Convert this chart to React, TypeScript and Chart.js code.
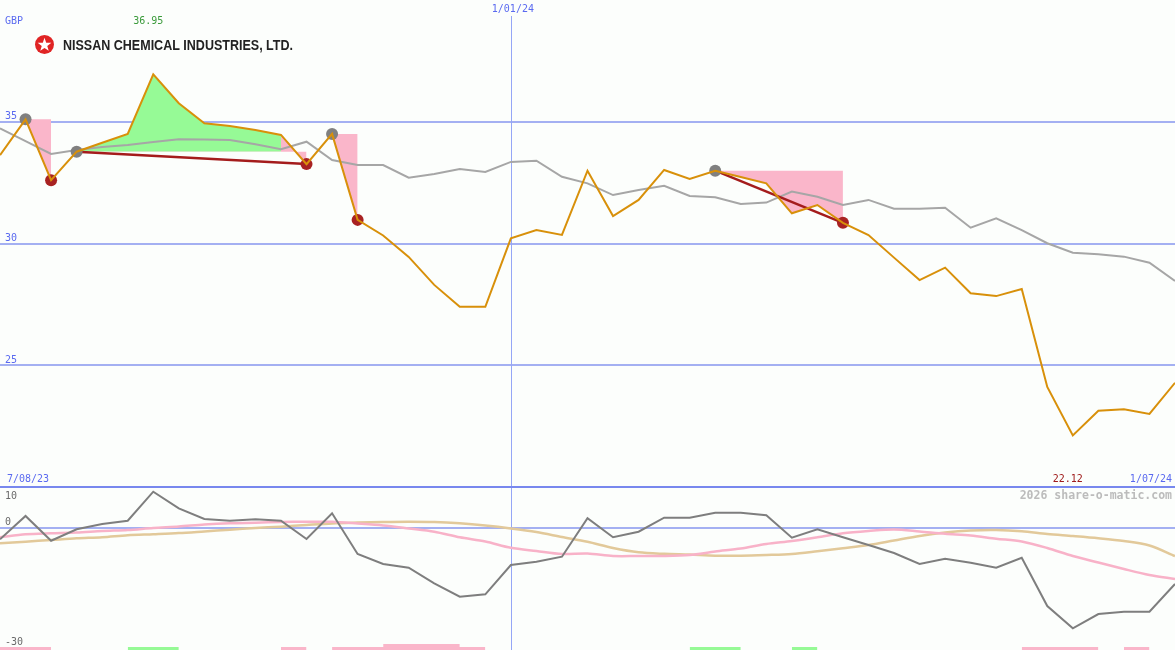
import React, { useEffect, useRef } from "react";
import { Chart, registerables } from "chart.js";
Chart.register(...registerables);

// ---------- DATA ----------
const currency = "GBP";
const companyName = "NISSAN CHEMICAL INDUSTRIES, LTD.";
const watermark = "2026 share-o-matic.com";

// weekly closing price (GBP), index 0 = 7/08/23 ... index 46 = 1/07/24
const price = [
  33.63, 35.1, 32.6, 33.77, 34.14, 34.5, 36.95, 35.76, 34.94, 34.83, 34.66, 34.46, 33.26, 34.5, 30.97, 30.33,
  29.45, 28.3, 27.4, 27.4, 30.21, 30.55, 30.35, 32.99, 31.13, 31.79, 33.02, 32.65, 32.99, 32.73, 32.47, 31.24,
  31.58, 30.85, 30.35, 29.42, 28.5, 29.01, 27.96, 27.84, 28.13, 24.11, 22.12, 23.13, 23.19, 23.0, 24.28,
];
// moving average
const movingAvg = [
  34.73, 34.2, 33.68, 33.84, 33.96, 34.05, 34.17, 34.28, 34.27, 34.25, 34.08, 33.87, 34.18, 33.43, 33.22, 33.22,
  32.7, 32.85, 33.06, 32.94, 33.35, 33.4, 32.74, 32.47, 31.99, 32.2, 32.37, 31.95, 31.9, 31.62, 31.68, 32.13,
  31.92, 31.58, 31.79, 31.43, 31.43, 31.47, 30.65, 31.03, 30.55, 30.01, 29.62, 29.56, 29.46, 29.21, 28.46,
];
// lower panel: momentum oscillator
const oscillator = [
  -2.95, 2.88, -3.3, -0.45, 0.88, 1.7, 8.95, 4.8, 2.13, 1.7, 2.05, 1.7, -2.88, 3.55, -6.63, -9.13, -10.05,
  -13.95, -17.3, -16.7, -9.38, -8.55, -7.3, 2.3, -2.45, -1.05, 2.45, 2.45, 3.7, 3.7, 3.05, -2.55, -0.45, -2.45,
  -4.38, -6.38, -9.13, -7.8, -8.8, -10.05, -7.55, -19.63, -25.2, -21.63, -21.05, -21.05, -14.13,
];
const oscSlow1 = [
  -2.45, -1.7, -1.45, -1.28, -0.88, -0.63, -0.13, 0.23, 0.73, 1.05, 1.2, 1.38, 1.45, 1.43, 1.0, 0.5, -0.25,
  -1.05, -2.45, -3.5, -5.08, -5.88, -6.63, -6.5, -7.13, -7.13, -7.13, -6.88, -6.0, -5.25, -4.13, -3.38, -2.45,
  -1.45, -0.88, -0.5, -1.0, -1.58, -2.0, -2.8, -3.5, -5.13, -7.13, -8.75, -10.38, -11.88, -12.88,
];
const oscSlow2 = [
  -3.95, -3.55, -3.13, -2.7, -2.43, -1.93, -1.68, -1.4, -0.98, -0.55, -0.13, 0.2, 0.63, 1.03, 1.23, 1.38, 1.45,
  1.38, 1.05, 0.5, -0.23, -1.13, -2.38, -3.58, -5.13, -6.2, -6.58, -6.78, -7.05, -7.05, -6.88, -6.63, -5.95,
  -5.2, -4.4, -3.25, -2.1, -1.25, -0.75, -0.63, -0.95, -1.63, -2.13, -2.68, -3.38, -4.5, -7.13,
];

// pattern marks (indices into price)
const peakMarks = [1, 3, 13, 28];
const troughMarks = [2, 12, 14, 33];
const trendLines = [
  [3, 12],
  [28, 33],
];
// [from, to, index whose price is the reference level]
const riseSpans = [[3, 11, 3]];
const fallSpans = [
  [1, 2, 1],
  [11, 12, 3],
  [13, 14, 13],
  [28, 33, 28],
];
// bottom signal strips [from, to]
const sellStrips = [
  [0, 2],
  [11, 12],
  [13, 19],
  [40, 43],
  [44, 45],
];
const sellStripsStrong = [[15, 18]];
const buyStrips = [
  [5, 7],
  [27, 29],
  [31, 32],
];

// axis ticks / labels
const priceTicks = [25, 30, 35];
const oscTicks = [10, 0, -30];
const oscZero = 0;
const panelDivider = 20;
const dateLabels = [
  { idx: 0, text: "7/08/23" },
  { idx: 46, text: "1/07/24" },
];
const yearLine = { idx: 20, text: "1/01/24" };
const lastIndex = 46;

// ---------- STYLE ----------
const BG = "#fcfefc";
const ORANGE = "#d8900a";
const MA_GRAY = "#a6a6a6";
const TREND_RED = "#a41c1c";
const PEAK_GRAY = "#808080";
const TROUGH_RED = "#a82222";
const PINK = "rgb(250,182,202)";
const GREEN = "rgb(150,250,150)";
const GRID_BLUE = "#a4b0f2";
const VLINE_BLUE = "#95a6f6";
const DIVIDER_BLUE = "#7888ee";
const LABEL_BLUE = "#5a6af0";
const OSC_GRAY = "#7e7e7e";
const OSC_PINK = "#f8b2c8";
const OSC_TAN = "#e2c99a";
const MONO = '"DejaVu Sans Mono", monospace';

const pts = (arr: number[]) => arr.map((v, i) => ({ x: i, y: v }));

const decorPlugin = {
  id: "decor",
  beforeDraw(chart: any) {
    const { ctx, width, height } = chart;
    ctx.save();
    ctx.fillStyle = BG;
    ctx.fillRect(0, 0, width, height);
    ctx.restore();
  },
  beforeDatasetsDraw(chart: any) {
    const { ctx, chartArea } = chart;
    const x = chart.scales.x;
    const y = chart.scales.y;
    const y2 = chart.scales.y2;
    ctx.save();
    // horizontal price grid
    ctx.strokeStyle = GRID_BLUE;
    ctx.lineWidth = 2;
    priceTicks.forEach((t) => {
      const py = Math.round(y.getPixelForValue(t));
      ctx.beginPath();
      ctx.moveTo(chartArea.left, py);
      ctx.lineTo(chartArea.right, py);
      ctx.stroke();
    });
    // oscillator zero line
    const pz = Math.round(y2.getPixelForValue(oscZero));
    ctx.beginPath();
    ctx.moveTo(chartArea.left, pz);
    ctx.lineTo(chartArea.right, pz);
    ctx.stroke();
    // year line
    ctx.strokeStyle = VLINE_BLUE;
    ctx.lineWidth = 1;
    const vx = Math.round(x.getPixelForValue(yearLine.idx)) + 0.5;
    ctx.beginPath();
    ctx.moveTo(vx, 16);
    ctx.lineTo(vx, chartArea.bottom);
    ctx.stroke();
    // panel divider
    ctx.strokeStyle = DIVIDER_BLUE;
    ctx.lineWidth = 2;
    const pd = Math.round(y.getPixelForValue(panelDivider));
    ctx.beginPath();
    ctx.moveTo(chartArea.left, pd);
    ctx.lineTo(chartArea.right, pd);
    ctx.stroke();
    ctx.restore();
  },
  afterDatasetsDraw(chart: any) {
    const { ctx, chartArea } = chart;
    const x = chart.scales.x;
    const y = chart.scales.y;
    const y2 = chart.scales.y2;
    ctx.save();
    ctx.textBaseline = "middle";
    ctx.font = `10px ${MONO}`;
    // price tick labels
    ctx.fillStyle = LABEL_BLUE;
    ctx.textAlign = "left";
    priceTicks.forEach((t) => ctx.fillText(String(t), 5, y.getPixelForValue(t) - 5));
    ctx.fillText(currency, 5, 21);
    // osc tick labels
    ctx.fillStyle = "#6a6a6a";
    oscTicks.forEach((t) => {
      const py = Math.max(y2.getPixelForValue(t) - 5.5, 496);
      ctx.fillText(String(t), 5, py);
    });
    // date labels
    const pd = y.getPixelForValue(panelDivider);
    ctx.fillStyle = LABEL_BLUE;
    dateLabels.forEach((d) => {
      ctx.textAlign = d.idx === 0 ? "left" : "right";
      const px = x.getPixelForValue(d.idx);
      ctx.fillText(d.text, d.idx === 0 ? px + 7 : px - 3, pd - 8);
    });
    ctx.textAlign = "center";
    ctx.fillText(yearLine.text, x.getPixelForValue(yearLine.idx) + 2, 9);
    // max / min
    let maxI = 0;
    let minI = 0;
    price.forEach((v, i) => {
      if (v > price[maxI]) maxI = i;
      if (v < price[minI]) minI = i;
    });
    ctx.fillStyle = "#3a9a3a";
    ctx.fillText(price[maxI].toFixed(2), x.getPixelForValue(maxI) - 5, 21);
    ctx.fillStyle = "#a01c1c";
    ctx.fillText(price[minI].toFixed(2), x.getPixelForValue(minI) - 5, pd - 8);
    // watermark
    ctx.textAlign = "right";
    ctx.fillStyle = "#bcbcbc";
    ctx.font = `bold 11.5px ${MONO}`;
    ctx.fillText(watermark, chartArea.right - 3, pd + 9);
    // logo
    ctx.fillStyle = "#e02424";
    ctx.beginPath();
    ctx.arc(44.5, 44.5, 9.5, 0, Math.PI * 2);
    ctx.fill();
    ctx.fillStyle = "#ffffff";
    ctx.beginPath();
    for (let k = 0; k < 10; k++) {
      const r = k % 2 === 0 ? 7.2 : 2.9;
      const a = -Math.PI / 2 + (k * Math.PI) / 5;
      const sx = 44.5 + r * Math.cos(a);
      const sy = 45 + r * Math.sin(a);
      if (k === 0) ctx.moveTo(sx, sy);
      else ctx.lineTo(sx, sy);
    }
    ctx.closePath();
    ctx.fill();
    ctx.fillStyle = "#222222";
    ctx.textAlign = "left";
    ctx.textBaseline = "alphabetic";
    ctx.font = 'bold 14px "Liberation Sans", Arial, sans-serif';
    ctx.fillText(companyName, 63, 49.5, 230);
    ctx.restore();
  },
};

export default function App() {
  const ref = useRef<HTMLCanvasElement | null>(null);
  useEffect(() => {
    document.body.style.margin = "0";
    const canvas = ref.current;
    if (!canvas) return;

    const datasets: any[] = [];
    // main price line (top-most)
    datasets.push({
      data: pts(price),
      yAxisID: "y",
      borderColor: ORANGE,
      borderWidth: 2,
      pointRadius: 0,
      tension: 0,
      fill: false,
    });
    // markers
    datasets.push({
      data: troughMarks.map((i) => ({ x: i, y: price[i] })),
      yAxisID: "y",
      showLine: false,
      pointRadius: 6,
      pointBackgroundColor: TROUGH_RED,
      pointBorderWidth: 0,
      borderColor: TROUGH_RED,
      fill: false,
    });
    datasets.push({
      data: peakMarks.map((i) => ({ x: i, y: price[i] })),
      yAxisID: "y",
      showLine: false,
      pointRadius: 6,
      pointBackgroundColor: PEAK_GRAY,
      pointBorderWidth: 0,
      borderColor: PEAK_GRAY,
      fill: false,
    });
    // oscillator lines
    datasets.push({
      data: pts(oscillator),
      yAxisID: "y2",
      borderColor: OSC_GRAY,
      borderWidth: 2,
      pointRadius: 0,
      tension: 0,
      fill: false,
    });
    datasets.push({
      data: pts(oscSlow1),
      yAxisID: "y2",
      borderColor: OSC_PINK,
      borderWidth: 2.5,
      pointRadius: 0,
      tension: 0.3,
      fill: false,
    });
    datasets.push({
      data: pts(oscSlow2),
      yAxisID: "y2",
      borderColor: OSC_TAN,
      borderWidth: 2.5,
      pointRadius: 0,
      tension: 0.3,
      fill: false,
    });
    // trend lines
    trendLines.forEach(([a, b]) => {
      datasets.push({
        data: [
          { x: a, y: price[a] },
          { x: b, y: price[b] },
        ],
        yAxisID: "y",
        borderColor: TREND_RED,
        borderWidth: 2.5,
        pointRadius: 0,
        fill: false,
      });
    });
    // moving average
    datasets.push({
      data: pts(movingAvg),
      yAxisID: "y",
      borderColor: MA_GRAY,
      borderWidth: 2,
      pointRadius: 0,
      tension: 0,
      fill: false,
    });
    // fills
    const spanData = (a: number, b: number) => pts(price).slice(a, b + 1);
    riseSpans.forEach(([a, b, lv]) => {
      datasets.push({
        data: spanData(a, b),
        yAxisID: "y",
        borderWidth: 0,
        borderColor: "rgba(0,0,0,0)",
        pointRadius: 0,
        backgroundColor: GREEN,
        fill: { target: { value: price[lv] }, above: GREEN, below: PINK },
      });
    });
    fallSpans.forEach(([a, b, lv]) => {
      datasets.push({
        data: spanData(a, b),
        yAxisID: "y",
        borderWidth: 0,
        borderColor: "rgba(0,0,0,0)",
        pointRadius: 0,
        backgroundColor: PINK,
        fill: { target: { value: price[lv] }, above: PINK, below: PINK },
      });
    });
    // signal strips at bottom of lower panel
    const stripBottom = -30.625;
    const strip = (spans: number[][], top: number, color: string) =>
      spans.forEach(([a, b]) => {
        datasets.push({
          data: [
            { x: a, y: top },
            { x: b, y: top },
          ],
          yAxisID: "y2",
          borderWidth: 0,
          borderColor: "rgba(0,0,0,0)",
          pointRadius: 0,
          backgroundColor: color,
          fill: { target: { value: stripBottom }, above: color, below: color },
        });
      });
    strip(sellStripsStrong, -29.1, PINK);
    strip(sellStrips, -29.875, PINK);
    strip(buyStrips, -29.875, GREEN);

    const chart = new Chart(canvas, {
      type: "line",
      data: { datasets },
      options: {
        responsive: false,
        maintainAspectRatio: false,
        devicePixelRatio: 1,
        animation: false,
        events: [],
        layout: { padding: 0, autoPadding: false },
        plugins: {
          legend: { display: false },
          tooltip: { enabled: false },
        },
        scales: {
          x: { type: "linear", min: 0, max: lastIndex, display: false },
          y: { type: "linear", min: 13.306, max: 40, display: false },
          y2: { type: "linear", min: -30.625, max: 131.875, display: false },
        },
      } as any,
      plugins: [decorPlugin],
    });
    return () => chart.destroy();
  }, []);

  return (
    <div style={{ width: 1175, height: 650 }}>
      <canvas ref={ref} width={1175} height={650} style={{ display: "block", width: 1175, height: 650 }} />
    </div>
  );
}
